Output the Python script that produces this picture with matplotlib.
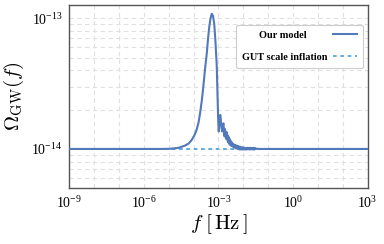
import numpy as np
import matplotlib.pyplot as plt
from matplotlib.ticker import NullFormatter, FixedLocator

# log10 of frequency [Hz] and Omega_GW
log_f = [-9.0, -6.0, -5.3, -4.95, -4.6, -4.35, -4.2, -4.08, -3.97, -3.88,
         -3.80, -3.74, -3.67, -3.61, -3.54, -3.47, -3.42, -3.37, -3.32, -3.27,
         -3.22, -3.17, -3.12, -3.07, -3.04, -3.01, -2.99, -2.96, -2.93, -2.91,
         -2.88, -2.85, -2.83, -2.80, -2.78, -2.76, -2.74, -2.72, -2.70, -2.68,
         -2.66, -2.64, -2.62, -2.60, -2.58, -2.56, -2.54, -2.52, -2.50, -2.48,
         -2.46, -2.43, -2.40, -2.37, -2.34, -2.31, -2.28, -2.25, -2.22, -2.19,
         -2.16, -2.13, -2.10, -2.07, -2.04, -2.01, -1.98, -1.95, -1.92, -1.89,
         -1.86, -1.83, -1.80, -1.77, -1.74, -1.71, -1.68, -1.65, -1.62, -1.59,
         -1.56, -1.53, -1.50, -1.45, -1.40, -1.30, 0.0, 3.0]
omega = [1.0e-14, 1.0e-14, 1.0e-14, 1.003e-14, 1.02e-14, 1.06e-14, 1.1e-14, 1.17e-14, 1.27e-14, 1.40e-14,
         1.6e-14, 1.88e-14, 2.35e-14, 3.0e-14, 4.1e-14, 5.4e-14, 7.0e-14, 8.6e-14, 1.0e-13, 1.08e-13,
         1.04e-13, 9.0e-14, 6.5e-14, 4.3e-14, 2.6e-14, 1.6e-14, 1.36e-14, 1.62e-14, 1.82e-14, 1.7e-14,
         1.45e-14, 1.36e-14, 1.5e-14, 1.57e-14, 1.4e-14, 1.25e-14, 1.42e-14, 1.3e-14, 1.2e-14, 1.35e-14,
         1.18e-14, 1.28e-14, 1.13e-14, 1.24e-14, 1.1e-14, 1.2e-14, 1.08e-14, 1.16e-14, 1.06e-14, 1.13e-14,
         1.05e-14, 1.10e-14, 1.03e-14, 1.08e-14, 1.02e-14, 1.07e-14, 1.01e-14, 1.06e-14, 1.0e-14, 1.05e-14,
         0.99e-14, 1.04e-14, 0.99e-14, 1.03e-14, 0.99e-14, 1.03e-14, 0.99e-14, 1.02e-14, 0.99e-14, 1.02e-14,
         0.99e-14, 1.02e-14, 0.995e-14, 1.02e-14, 0.99e-14, 1.02e-14, 0.995e-14, 1.015e-14, 0.99e-14, 1.02e-14,
         0.99e-14, 1.015e-14, 1.0e-14, 1.005e-14, 1.0e-14, 1.0e-14, 1.0e-14, 1.0e-14]

gut_log_f = [-9.0, 3.0]
gut_omega = [1.0e-14, 1.0e-14]

x_ticks = [1e-9, 1e-6, 1e-3, 1e0, 1e3]
x_minor = [1e-8, 1e-7, 1e-5, 1e-4, 1e-2, 1e-1, 1e1, 1e2]
y_ticks = [1e-14, 1e-13]
y_minor = [6e-15, 7e-15, 8e-15, 9e-15, 2e-14, 3e-14, 4e-14, 5e-14,
           6e-14, 7e-14, 8e-14, 9e-14]

plt.rcParams['mathtext.fontset'] = 'cm'
plt.rcParams['font.family'] = ['Liberation Serif', 'DejaVu Serif']

fig = plt.figure(figsize=(3.84, 2.44), dpi=100)
ax = fig.add_axes([0.1805, 0.2305, 0.777, 0.749])

f = 10.0 ** np.array(log_f)
ax.plot(f, omega, color='#5279b9', lw=1.5, label='Our model\u2003\u2003', zorder=3)
ax.plot(10.0 ** np.array(gut_log_f), gut_omega, color='#4a9fd8', lw=1.2,
        ls=(0, (2.2, 2.2)), label='GUT scale inflation', zorder=2)

ax.set_xscale('log')
ax.set_yscale('log')
ax.set_xlim(1e-9, 1e3)
ax.set_ylim(5.05e-15, 1.26e-13)
ax.xaxis.set_major_locator(FixedLocator(x_ticks))
ax.xaxis.set_minor_locator(FixedLocator(x_minor))
ax.yaxis.set_major_locator(FixedLocator(y_ticks))
ax.yaxis.set_minor_locator(FixedLocator(y_minor))
ax.xaxis.set_minor_formatter(NullFormatter())
ax.yaxis.set_minor_formatter(NullFormatter())
ax.tick_params(which='both', length=0, labelsize=10, pad=5)

ax.grid(True, which='both', color='#e0e0e0', ls=(0, (4, 3)), lw=0.8)
for s in ax.spines.values():
    s.set_color('#555555')
    s.set_linewidth(1.0)

ax.set_xlabel(r'$f\;[\,\mathrm{Hz}\,]$', fontsize=15, labelpad=1)
ax.set_ylabel(r'$\Omega_{\rm GW}(f)$', fontsize=15, labelpad=4)

leg = ax.legend(loc='upper right', markerfirst=False, fancybox=True,
                prop={'family': 'Liberation Serif', 'weight': 'bold', 'size': 7.4},
                edgecolor='#cccccc', framealpha=1.0, borderpad=0.55,
                labelspacing=1.25, handlelength=2.3, handletextpad=0.6,
                borderaxespad=0, bbox_to_anchor=(0.983, 0.89))
leg.get_frame().set_linewidth(0.8)

fig.savefig('out.png', dpi=100)
